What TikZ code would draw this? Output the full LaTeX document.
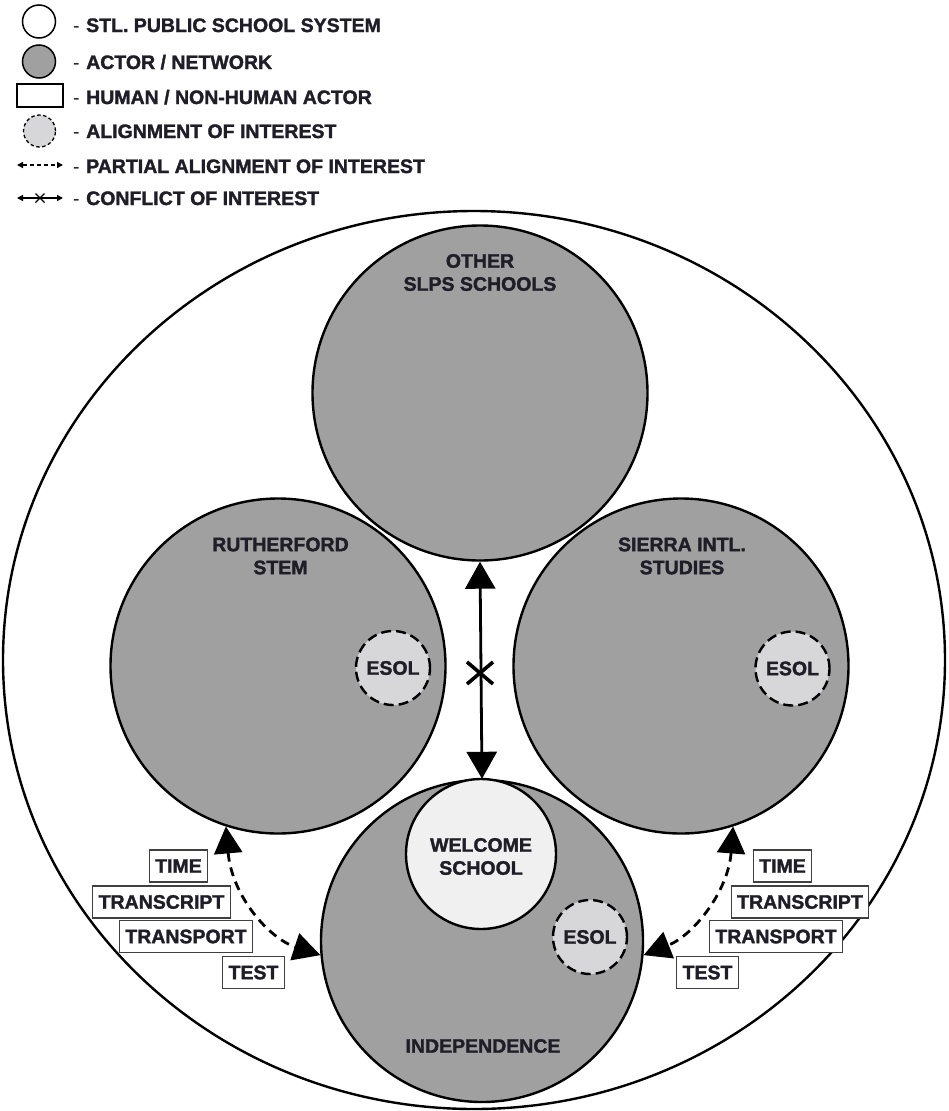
\documentclass[tikz,border=0pt]{standalone}
\usepackage{fontspec}
\setmainfont{Liberation Sans}[BoldFeatures={FakeBold=1.6}]
\usetikzlibrary{arrows.meta}
\definecolor{actorgray}{HTML}{A0A0A0}
\definecolor{esolgray}{HTML}{D7D7D9}
\definecolor{welcomegray}{HTML}{F0F0F0}
\definecolor{ink}{HTML}{1F1E28}
\begin{document}
\begin{tikzpicture}[x=1pt,y=-1pt,
  every node/.style={text=ink, font=\bfseries\fontsize{19.5}{23}\selectfont},
  ring/.style={circle, draw=black, line width=2.4pt, inner sep=0pt},
  actor/.style={ring, fill=actorgray},
  esol/.style={ring, fill=esolgray, line width=2.4pt, dash pattern=on 10pt off 5pt, minimum size=74pt},
  factor/.style={draw=black!75, line width=1.3pt, fill=white, inner xsep=6pt, inner ysep=0pt, minimum height=32pt},
  lbl/.style={align=center, inner sep=0pt},
  legtext/.style={anchor=base west, inner sep=0pt},
  partial/.style={line width=2.8pt, dash pattern=on 9pt off 6pt, {Triangle[length=27pt,width=28pt]}-{Triangle[length=27pt,width=28pt]}},
  conflict/.style={line width=2.8pt, {Triangle[length=27pt,width=30pt]}-{Triangle[length=27pt,width=30pt]}},
  smallpartial/.style={line width=1.3pt, dash pattern=on 4pt off 3pt, {Triangle[length=6pt,width=6pt]}-{Triangle[length=6pt,width=6pt]}},
  smallconflict/.style={line width=1.3pt, {Triangle[length=6pt,width=6pt]}-{Triangle[length=6pt,width=6pt]}}
]
\useasboundingbox (0,0) rectangle (948,1111);
\clip (0,0) rectangle (948,1111);

% ---------- legend ----------
\node[ring, fill=white, line width=1.5pt, minimum size=33pt] (lg1) at (39,21.5) {};
\node[ring, fill=actorgray, line width=1.5pt, minimum size=33pt] (lg2) at (39,61.5) {};
\node[draw=black, line width=1.5pt, fill=white, minimum width=46pt, minimum height=23pt, inner sep=0pt] (lg3) at (40,95.5) {};
\node[ring, fill=esolgray, line width=1.3pt, dash pattern=on 3.5pt off 2.5pt, minimum size=32pt] (lg4) at (39.5,131) {};
\coordinate (lg5a) at (17,165);
\coordinate (lg5b) at (63,165);
\draw[smallpartial] (lg5a) -- (lg5b);
\coordinate (lg6a) at (17,198);
\coordinate (lg6b) at (63,198);
\draw[smallconflict] (lg6a) -- (lg6b);
\coordinate (lg6x) at (40,198);
\draw[line width=1.3pt] (lg6x) ++(-4.5,-4.5) -- ++(9,9) (lg6x) ++(4.5,-4.5) -- ++(-9,9);

\node[legtext] (lt1) at (73,32) {{\mdseries -}\,\,STL. PUBLIC SCHOOL SYSTEM};
\node[legtext] (lt2) at (73,69) {{\mdseries -}\,\,ACTOR / NETWORK};
\node[legtext] (lt3) at (73,104) {{\mdseries -}\,\,HUMAN / NON-HUMAN ACTOR};
\node[legtext] (lt4) at (73,138) {{\mdseries -}\,\,ALIGNMENT OF INTEREST};
\node[legtext] (lt5) at (73,173) {{\mdseries -}\,\,PARTIAL ALIGNMENT OF INTEREST};
\node[legtext] (lt6) at (73,205) {{\mdseries -}\,\,CONFLICT OF INTEREST};

% ---------- system ----------
\draw[line width=2.4pt, fill=white] (474,660) ellipse [x radius=471, y radius=449];
\coordinate (stl) at (474,660);

\node[actor, minimum size=335pt] (other) at (480,393) {};
\node[actor, minimum size=335pt] (ruth) at (278,666) {};
\node[actor, minimum size=335pt] (sierra) at (681,666) {};
\node[actor, minimum size=322pt] (indep) at (482,941) {};
\node[ring, fill=welcomegray, minimum size=150pt] (welcome) at (481,854) {};

\node[esol] (esol1) at (393,668) {ESOL};
\node[esol] (esol2) at (792.5,668.5) {ESOL};
\node[esol] (esol3) at (590,937) {ESOL};

\node[lbl] (otherlbl) at (480,272.5) {OTHER\\SLPS SCHOOLS};
\node[lbl] (ruthlbl) at (280.5,556) {RUTHERFORD\\STEM};
\node[lbl] (sierralbl) at (682,556) {SIERRA INTL.\\STUDIES};
\node[lbl] (welcomelbl) at (481,856.5) {WELCOME\\SCHOOL};
\node[lbl] (indeplbl) at (483,1046) {INDEPENDENCE};

% ---------- conflict arrow ----------
\draw[conflict] (other.south) -- (indep.north);
\coordinate (cx) at (480,673);
\draw[line width=3.6pt] (cx) ++(-13,-11) -- ++(26,22) (cx) ++(13,-11) -- ++(-26,22);

% ---------- partial alignment arrows ----------
\draw[partial] (ruth.252) .. controls +(6,69) and +(-52,-17) .. (indep.185);
\draw[partial] (sierra.288) .. controls +(-5,65) and +(50,-20) .. (indep.355);

% ---------- factor boxes ----------
\node[factor] (ltime) at (178.5,866) {TIME};
\node[factor] (ltranscript) at (161.5,902) {TRANSCRIPT};
\node[factor] (ltransport) at (186,936.5) {TRANSPORT};
\node[factor] (ltest) at (253.5,972.5) {TEST};

\node[factor] (rtime) at (782.5,866) {TIME};
\node[factor] (rtranscript) at (800,902) {TRANSCRIPT};
\node[factor] (rtransport) at (776,936.5) {TRANSPORT};
\node[factor] (rtest) at (707.5,972.5) {TEST};
\end{tikzpicture}
\end{document}
